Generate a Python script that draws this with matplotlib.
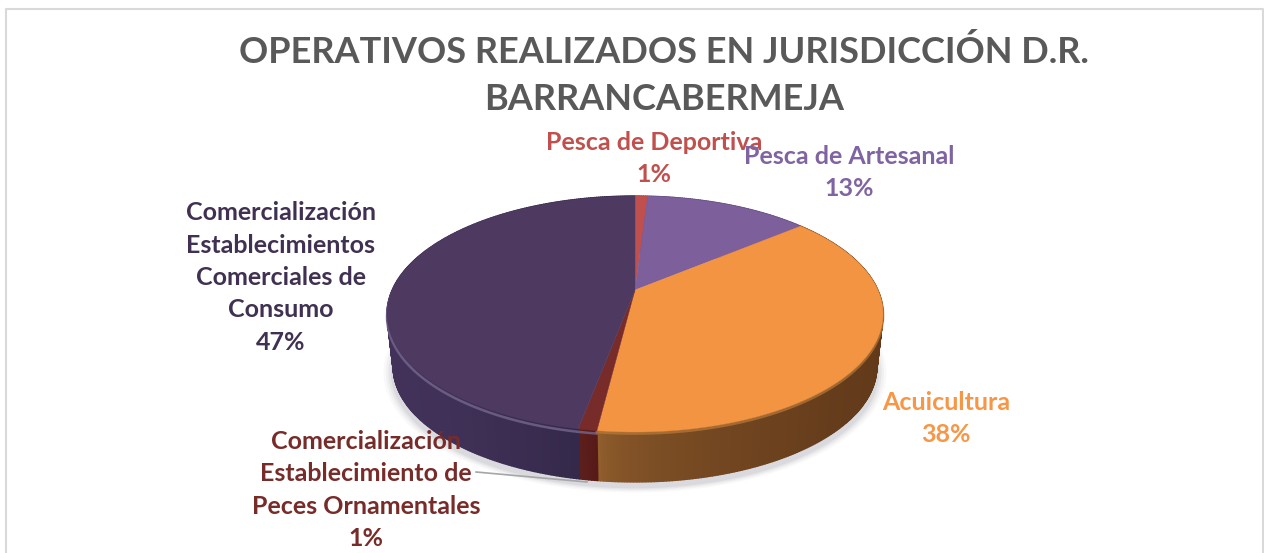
#!/usr/bin/env python3
"""Pie chart of operativos, drawn as a tilted 3D disc on pixel axes."""

import numpy as np
import matplotlib
matplotlib.use('Agg')
import matplotlib.pyplot as plt
from matplotlib.colors import to_rgb

plt.rcParams['font.family'] = ['Lato', 'DejaVu Sans']

TITLE = 'OPERATIVOS REALIZADOS EN JURISDICCIÓN D.R.\nBARRANCABERMEJA'
CATEGORIES = ['Pesca de Deportiva',
              'Pesca de Artesanal',
              'Acuicultura',
              'Comercialización\nEstablecimiento de\nPeces Ornamentales',
              'Comercialización\nEstablecimientos\nComerciales de\nConsumo']
VALUES = [1, 13, 38, 1, 47]

C_TOP = ['#c0504d', '#7d5f9c', '#f39443', '#772c2a', '#4e3a60']
C_SIDE_LIGHT = ['#8a3836', '#5c4673', '#96622f', '#5e1f1c', '#42325a']
C_SIDE_DARK = ['#8a3836', '#5c4673', '#623a1a', '#571a18', '#2d2441']
SIDE_GAMMA = [1, 1, 0.45, 1, 1.6]
C_TEXT = ['#c0504d', '#8064a2', '#f79646', '#772c2a', '#403152']
LABEL_POS = [(654, 158.5), (849, 172.5), (946, 418.5), (366, 490), (281, 277.5)]

# tilted disc: projective map of the unit circle, in image pixels
CX, CY = 635, 290
TILT = 0.2034
SX, SY = 242.8, 113.1
BOTTOM_SCALE = 0.975
BOTTOM_CY = 343.5


def project(theta, cy=CY, scale=1.0):
    # theta runs clockwise from the top of the disc
    u, v = np.sin(theta), np.cos(theta)
    den = 1 + TILT * v
    return CX + scale * SX * u / den, cy - scale * SY * v / den


def blend(c1, c2, t):
    a, b = np.array(to_rgb(c1)), np.array(to_rgb(c2))
    return tuple(a + (b - a) * t)


fig = plt.figure(figsize=(12.64, 5.53), dpi=100, facecolor='white')
ax = fig.add_axes([0, 0, 1, 1])
ax.set_xlim(0, 1264)
ax.set_ylim(553, 0)
ax.axis('off')

# chart frame, open at the bottom
ax.plot([5.5, 5.5, 1263, 1263], [553, 8.5, 8.5, 553], color='#d9d9d9', lw=1.5, zorder=1)

edges = np.cumsum([0] + VALUES) / sum(VALUES) * 2 * np.pi

# soft shadow under the disc
full = np.linspace(0, 2 * np.pi, 240)
for grow, alpha in [(1.04, 0.05), (1.03, 0.07), (1.02, 0.10), (1.01, 0.14)]:
    sx, sy = project(full, BOTTOM_CY + 5, BOTTOM_SCALE * grow)
    ax.fill(sx, sy, color='#8c8c9c', alpha=alpha, lw=0, zorder=2)

# side wall, in thin strips so it can carry a gradient
for i in range(len(VALUES)):
    n = max(int((edges[i + 1] - edges[i]) / 0.01), 2)
    th = np.linspace(edges[i], edges[i + 1], n + 1)
    tx, ty = project(th)
    bx, by = project(th, BOTTOM_CY, BOTTOM_SCALE)
    x_lo, x_hi = tx.min(), tx.max()
    for j in range(n):
        t = (0.5 * (tx[j] + tx[j + 1]) - x_lo) / max(x_hi - x_lo, 1)
        col = blend(C_SIDE_LIGHT[i], C_SIDE_DARK[i], t ** SIDE_GAMMA[i])
        ax.fill([tx[j], tx[j + 1], bx[j + 1], bx[j]],
                [ty[j], ty[j + 1], by[j + 1], by[j]],
                color=col, lw=1.0, ec=col, zorder=3)

# lit rim just under the top edge
rim = np.linspace(edges[3], edges[5], 200)
rx, ry = project(rim, CY + 3)
ax.plot(rx, ry, color='#75668e', lw=1.8, alpha=0.8, zorder=4)
rim = np.linspace(edges[1] + 0.9, edges[3], 200)
rx, ry = project(rim, CY + 1.5)
ax.plot(rx, ry, color='#b97a3a', lw=2, alpha=0.7, zorder=4)

# top face
for i in range(len(VALUES)):
    th = np.linspace(edges[i], edges[i + 1], 200)
    x, y = project(th)
    ax.fill(np.r_[CX, x], np.r_[CY, y], color=C_TOP[i], lw=0.3, ec=C_TOP[i], zorder=5)

ax.text(664, 75.5, TITLE, ha='center', va='center', fontsize=26, fontweight='bold',
        color='#595959', linespacing=1.51, zorder=6)

for name, val, pos, col in zip(CATEGORIES, VALUES, LABEL_POS, C_TEXT):
    ax.text(pos[0], pos[1], f'{name}\n{val}%', ha='center', va='center', fontsize=18,
            fontweight='bold', color=col, linespacing=1.49, zorder=7)

# leader line for the small slice
ax.plot([476, 587], [472, 482], color='#a6a6a6', lw=1.2, zorder=6)

fig.savefig('out.png', dpi=100)
plt.close(fig)
